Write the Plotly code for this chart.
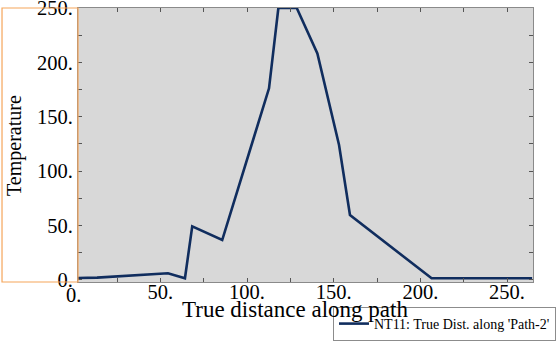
import plotly.graph_objects as go

# Data
distance = [2.5, 13.5, 54.4, 64.2, 68.4, 85.7, 112.7, 118.1, 128.7, 140.6, 153.1, 159.4, 206.5, 264.5]
temperature = [1.7, 2.0, 6.0, 1.4, 49.2, 36.6, 176.1, 250.0, 250.0, 208.3, 124.0, 59.6, 1.4, 1.4]
series_name = "NT11: True Dist. along 'Path-2'"
x_title = "True distance along path"
y_title = "Temperature"

x_tickvals = [50, 100, 150, 200, 250]
x_ticktext = ["50.", "100.", "150.", "200.", "250."]
y_tickvals = [0, 50, 100, 150, 200, 250]
y_ticktext = ["0.", "50.", "100.", "150.", "200.", "250."]
x_range = [2.5, 265]
y_range = [-2, 250]

SERIF = "Liberation Serif"
FRAME = "#8a8a8a"
TICKFONT = dict(family=SERIF, size=20.5, color="black")

fig = go.Figure()
fig.add_trace(go.Scatter(
    x=distance, y=temperature, mode="lines", name=series_name,
    line=dict(color="#102d5e", width=2.6), showlegend=True,
))

axis_common = dict(
    showline=True, linecolor=FRAME, linewidth=1, mirror="allticks",
    ticks="inside", ticklen=4, tickcolor="#555555", tickwidth=1,
    showgrid=False, zeroline=False, ticklabeloverflow="allow",
    tickfont=TICKFONT,
)

fig.update_xaxes(
    range=x_range, tickvals=x_tickvals, ticktext=x_ticktext,
    ticklabelstandoff=-9,
    minor=dict(dtick=25, tick0=0, ticks="inside", ticklen=4, tickcolor="#555555"),
    **axis_common,
)
fig.update_yaxes(
    range=y_range, tickvals=y_tickvals, ticktext=y_ticktext,
    minor=dict(dtick=25, tick0=0, ticks="inside", ticklen=4, tickcolor="#555555"),
    **axis_common,
)

# the "0." x tick label sits just left of the plotted range
x0_paper = (0 - x_range[0]) / (x_range[1] - x_range[0])
fig.add_annotation(x=x0_paper, y=-0.0, xref="paper", yref="paper", text="0.", showarrow=False,
                   yanchor="top", xanchor="center",
                   font=TICKFONT)

# axis titles
fig.add_annotation(x=0.477, y=-0.102, xref="paper", yref="paper", text=x_title, showarrow=False,
                   xanchor="center", yanchor="middle",
                   font=dict(family=SERIF, size=23, color="black"))
fig.add_annotation(x=-0.1407, y=0.5, xref="paper", yref="paper", text=y_title, showarrow=False,
                   xanchor="center", yanchor="middle", textangle=-90,
                   font=dict(family=SERIF, size=20, color="black"))

# orange selection frame around the y-axis label area
fig.add_shape(type="rect", xref="paper", yref="paper", x0=-0.167, x1=0.0, y0=0, y1=1,
              line=dict(color="#f5a55a", width=1.2), fillcolor="rgba(0,0,0,0)", layer="above")

fig.update_layout(
    width=560, height=342,
    margin=dict(l=78, r=27, t=8, b=60, autoexpand=False),
    paper_bgcolor="white", plot_bgcolor="#d8d8d8",
    font=dict(family=SERIF, color="black"),
    legend=dict(
        x=1.0505, xanchor="right", y=-0.2153, yanchor="bottom",
        bordercolor="#8c8c8c", borderwidth=1, bgcolor="white",
        font=dict(family=SERIF, size=14, color="black"),
        itemwidth=30, tracegroupgap=0,
    ),
)

fig.write_html("out.html")
